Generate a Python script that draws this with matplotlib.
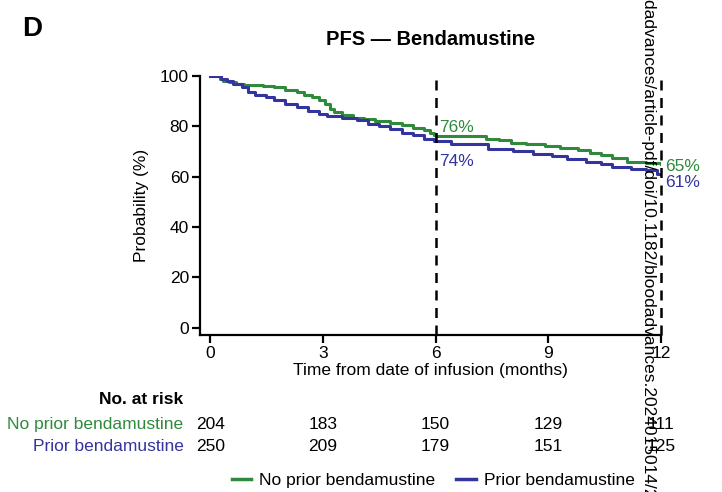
import matplotlib.pyplot as plt
from matplotlib.lines import Line2D
from matplotlib.transforms import blended_transform_factory

plt.rcParams.update({
    "font.size": 12.5,
    "font.family": ["Liberation Sans", "DejaVu Sans"],
})

GREEN = "#2f8a3c"
BLUE = "#34349e"

# -------- KM step data --------
no_prior_t = [0, 0.25, 0.35, 0.5, 0.7, 0.9, 1.4, 1.7, 2.0, 2.3, 2.5, 2.7, 2.9,
              3.05, 3.2, 3.3, 3.5, 3.8, 4.1, 4.4, 4.8, 5.1, 5.4, 5.7, 5.85,
              5.95, 6.0, 7.35, 7.7, 8.0, 8.4, 8.9, 9.3, 9.8, 10.1, 10.4, 10.7,
              11.1, 11.6, 12.0]
no_prior_s = [100, 99, 98, 97.5, 97, 96.4, 96, 95.5, 94.5, 93.5, 92.5, 91.5,
              90.5, 89, 87, 85.5, 84.5, 83.5, 83, 82, 81.5, 80.5, 79.5, 78.5,
              77.5, 76.5, 76, 75, 74.5, 73.5, 73, 72, 71.5, 70.5, 69.5, 68.5,
              67.5, 66, 65.5, 65]

prior_t = [0, 0.3, 0.45, 0.6, 0.85, 1.0, 1.2, 1.5, 1.7, 2.0, 2.3, 2.6, 2.9,
           3.1, 3.5, 3.9, 4.2, 4.5, 4.8, 5.1, 5.4, 5.7, 5.95, 6.4, 7.4, 8.05,
           8.6, 9.1, 9.5, 10.0, 10.4, 10.7, 11.2, 11.6, 11.9, 12.0]
prior_s = [100, 99, 98, 97, 95.5, 93.5, 92.5, 91.5, 90.5, 89, 87.5, 86, 85,
           84, 83.5, 82.5, 81, 80, 79, 77.5, 76.5, 75, 74, 73, 71, 70, 69, 68,
           67, 66, 65, 64, 63, 62.5, 61, 61]

landmarks = [6, 12]
no_prior_pct = ["76%", "65%"]
prior_pct = ["74%", "61%"]
no_prior_lab_y = [79.5, 64]
prior_lab_y = [66, 57.5]

risk_times = [0, 3, 6, 9, 12]
no_prior_risk = [204, 183, 150, 129, 111]
prior_risk = [250, 209, 179, 151, 125]

fig = plt.figure(figsize=(7.22, 4.92), dpi=100)
ax = fig.add_axes([0.277, 0.319, 0.6385, 0.5265])

ax.step(no_prior_t, no_prior_s, where="post", color=GREEN, linewidth=2.2)
ax.step(prior_t, prior_s, where="post", color=BLUE, linewidth=2.2)

for x in landmarks:
    ax.axvline(x, color="black", linestyle=(0, (4, 3)), linewidth=1.8, clip_on=False)

for x, lab, y in zip(landmarks, no_prior_pct, no_prior_lab_y):
    ax.text(x + 0.1, y, lab, color=GREEN, va="center", ha="left", clip_on=False)
for x, lab, y in zip(landmarks, prior_pct, prior_lab_y):
    ax.text(x + 0.1, y, lab, color=BLUE, va="center", ha="left", clip_on=False)

ax.set_xlim(-0.27, 12)
ax.set_ylim(-3, 100)
ax.set_xticks([0, 3, 6, 9, 12])
ax.set_yticks([0, 20, 40, 60, 80, 100])
ax.spines["top"].set_visible(False)
ax.spines["right"].set_visible(False)
ax.spines["left"].set_linewidth(1.6)
ax.spines["bottom"].set_linewidth(1.6)
ax.tick_params(width=1.6, length=6, pad=2)
ax.set_xlabel("Time from date of infusion (months)", labelpad=1)
ax.set_ylabel("Probability (%)", labelpad=8)

fig.text(0.596, 0.919, "PFS \u2014 Bendamustine", fontweight="bold", fontsize=14.5,
         ha="center", va="center")
fig.text(0.031, 0.968, "D", fontsize=20, fontweight="bold", va="top")

# -------- number at risk table --------
trans = blended_transform_factory(ax.transData, fig.transFigure)
fig.text(0.254, 0.187, "No. at risk", fontweight="bold", ha="right", va="center")
fig.text(0.254, 0.138, "No prior bendamustine", color=GREEN, ha="right", va="center")
fig.text(0.254, 0.093, "Prior bendamustine", color=BLUE, ha="right", va="center")
for t, n1, n2 in zip(risk_times, no_prior_risk, prior_risk):
    ax.text(t, 0.138, str(n1), transform=trans, ha="center", va="center", clip_on=False)
    ax.text(t, 0.093, str(n2), transform=trans, ha="center", va="center", clip_on=False)

handles = [Line2D([], [], color=GREEN, linewidth=2.5),
           Line2D([], [], color=BLUE, linewidth=2.5)]
fig.legend(handles, ["No prior bendamustine", "Prior bendamustine"],
           loc="center", bbox_to_anchor=(0.6, 0.024), ncol=2, frameon=False,
           handlelength=1.15, handletextpad=0.45, columnspacing=1.2,
           borderpad=0, borderaxespad=0)

# vertical download watermark
fig.text(0.897, 1.065, "bloodadvances/article-pdf/doi/10.1182/bloodadvances.2024015014/2",
         rotation=-90, ha="center", va="top", fontsize=12.5)

fig.savefig("out.png", dpi=100)
